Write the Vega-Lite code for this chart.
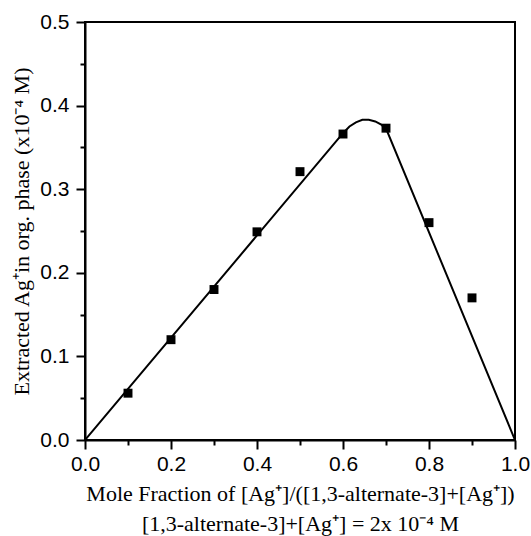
{
  "$schema": "https://vega.github.io/schema/vega-lite/v6.json",
  "width": 430,
  "height": 418,
  "autosize": {"type": "none"},
  "padding": {"left": 85, "top": 22, "right": 16, "bottom": 96},
  "background": "white",
  "config": {
    "view": {"stroke": "black", "strokeWidth": 2},
    "axis": {
      "domainColor": "black",
      "domainWidth": 2,
      "tickColor": "black",
      "tickWidth": 2,
      "grid": false,
      "labelFont": "Liberation Sans",
      "labelFontSize": 21,
      "labelColor": "black",
      "titleFont": "Liberation Serif",
      "titleFontSize": 22,
      "titleFontWeight": "normal",
      "titleColor": "black"
    }
  },
  "datasets": {
    "pts": [
      {"x": 0.1, "y": 0.056},
      {"x": 0.2, "y": 0.12},
      {"x": 0.3, "y": 0.18},
      {"x": 0.4, "y": 0.249},
      {"x": 0.5, "y": 0.321},
      {"x": 0.6, "y": 0.366},
      {"x": 0.7, "y": 0.373},
      {"x": 0.8, "y": 0.26},
      {"x": 0.9, "y": 0.17}
    ],
    "fit": [
      {"x": 0.0, "y": 0.0},
      {"x": 0.6, "y": 0.367},
      {"x": 0.615, "y": 0.375},
      {"x": 0.63, "y": 0.38},
      {"x": 0.645, "y": 0.383},
      {"x": 0.66, "y": 0.383},
      {"x": 0.675, "y": 0.381},
      {"x": 0.69, "y": 0.377},
      {"x": 0.703, "y": 0.369},
      {"x": 1.0, "y": 0.0}
    ]
  },
  "layer": [
    {
      "data": {"name": "fit"},
      "mark": {"type": "line", "color": "black", "strokeWidth": 2, "clip": true},
      "encoding": {
        "x": {
          "field": "x", "type": "quantitative",
          "scale": {"domain": [0, 1], "nice": false},
          "axis": {
            "values": [0, 0.1, 0.2, 0.3, 0.4, 0.5, 0.6, 0.7, 0.8, 0.9, 1.0],
            "format": ".1f",
            "labelExpr": "round(datum.value*10) % 2 == 0 ? datum.label : ''",
            "tickSize": {"condition": {"test": "round(datum.value*10) % 2 == 0", "value": 9}, "value": 5},
            "labelPadding": 4,
            "labelFlush": false,
            "labelOverlap": false,
            "titlePadding": 9,
            "titleLineHeight": 30,
            "titleLimit": 600,
            "title": ["Mole Fraction of [Ag⁺]/([1,3-alternate-3]+[Ag⁺])", "[1,3-alternate-3]+[Ag⁺] = 2x 10⁻⁴ M"]
          }
        },
        "y": {
          "field": "y", "type": "quantitative",
          "scale": {"domain": [0, 0.5], "nice": false},
          "axis": {
            "values": [0, 0.05, 0.1, 0.15, 0.2, 0.25, 0.3, 0.35, 0.4, 0.45, 0.5],
            "format": ".1f",
            "labelExpr": "round(datum.value*20) % 2 == 0 ? datum.label : ''",
            "tickSize": {"condition": {"test": "round(datum.value*20) % 2 == 0", "value": 9}, "value": 5},
            "labelPadding": 7,
            "labelFlush": false,
            "labelOverlap": false,
            "titlePadding": 6,
            "titleLimit": 600,
            "title": "Extracted Ag⁺in org. phase (x10⁻⁴ M)"
          }
        }
      }
    },
    {
      "data": {"name": "pts"},
      "mark": {"type": "point", "shape": "square", "filled": true, "color": "black", "size": 80, "opacity": 1},
      "encoding": {
        "x": {"field": "x", "type": "quantitative"},
        "y": {"field": "y", "type": "quantitative"}
      }
    }
  ]
}
